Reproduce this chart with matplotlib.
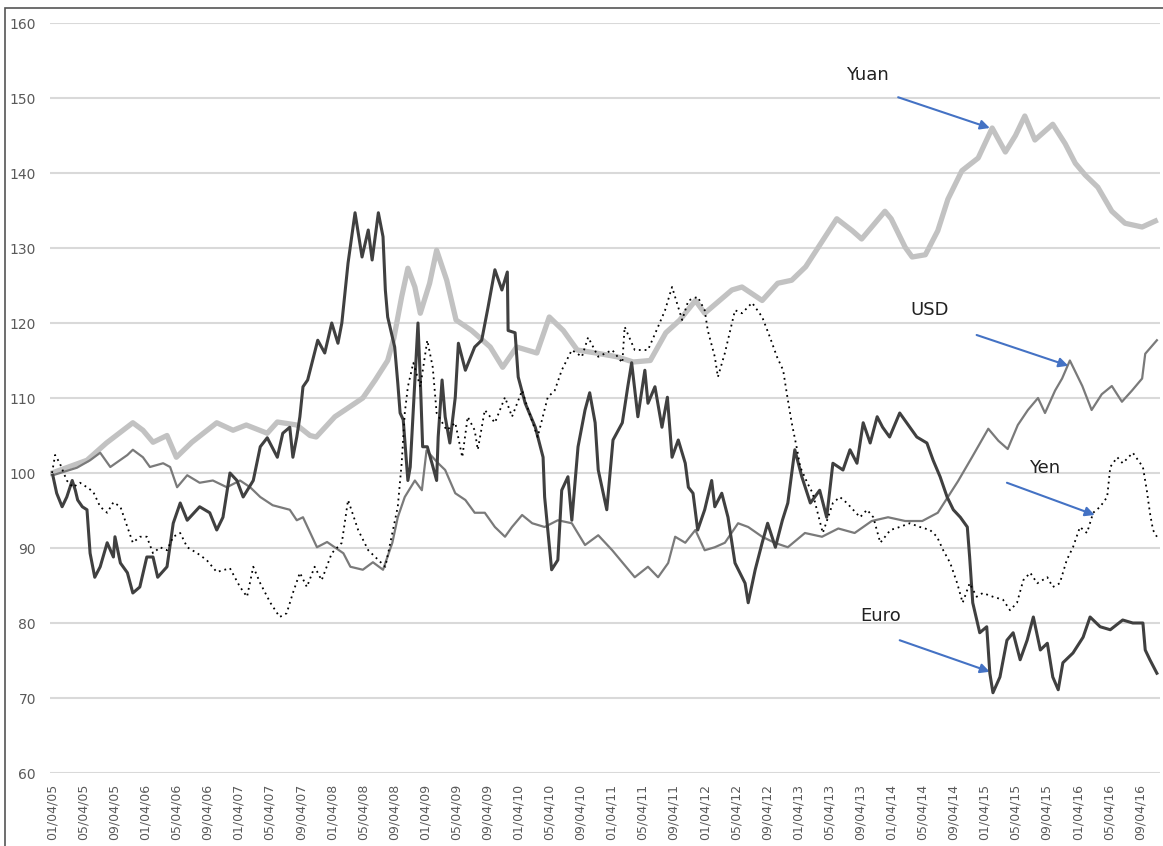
import matplotlib
matplotlib.use('Agg')
import matplotlib.pyplot as plt
from matplotlib.patches import Rectangle
import numpy as np

# Index values (base 100 on 04 Jan 2005), time in months since 04 Jan 2005
yuan_t = [0, 4.5, 7, 10.4, 11.7, 13, 14.8, 16, 18, 21.2,
          23.3, 25, 27.7, 29, 31.5, 33.2, 34, 36.4, 37.7, 40,
          41.6, 43.2, 44, 45, 45.8, 46.7, 47.4, 48.6, 49.5, 50.8,
          52, 54, 56.4, 58, 59.8, 62.4, 64, 65.8, 67.6, 70,
          72.7, 74.8, 77, 79, 80.8, 82.8, 84, 87.5, 88.8, 91.4,
          93.4, 95.2, 97, 99, 101, 103, 104.2, 107.2, 108, 109.8,
          110.7, 112.4, 114, 115.3, 117.1, 119.2, 121, 122.7, 124, 125.2,
          126.5, 128.8, 130.4, 131.7, 133, 134.6, 136.4, 138.1, 140.3, 142]
yuan_v = [100, 101.7, 104, 106.7, 105.7, 104.1, 105, 102.1, 104.1, 106.7,
          105.7, 106.4, 105.3, 106.8, 106.4, 105, 104.8, 107.5, 108.4, 110,
          112.4, 115, 118, 123.5, 127.3, 124.8, 121.3, 125.3, 129.7, 125.7,
          120.4, 119, 116.8, 114.1, 116.8, 116, 120.8, 119, 116.4, 116,
          115.5, 114.8, 115, 118.7, 120.4, 123, 121.3, 124.4, 124.8, 123,
          125.3, 125.7, 127.5, 130.7, 133.9, 132.3, 131.2, 134.9, 133.9, 130.1,
          128.8, 129.1, 132.3, 136.5, 140.3, 142, 146, 142.8, 145, 147.6,
          144.4, 146.5, 143.9, 141.3, 139.7, 138.1, 134.9, 133.3, 132.8, 133.6]

usd_t = [0.1, 3.2, 4.9, 6.2, 7.5, 9.7, 10.4, 11.7, 12.6, 14.3,
         15.2, 16.1, 17.4, 19, 20.7, 22.5, 24.2, 25.5, 26.8, 28.4,
         30.6, 31.5, 32.3, 34.1, 35.4, 37.5, 38.4, 40, 41.3, 42.6,
         43.8, 44.5, 45.4, 46.7, 47.6, 48.2, 49.7, 50.6, 51.9, 53.2,
         54.4, 55.7, 57, 58.3, 59.2, 60.5, 61.8, 63.4, 65.1, 66.9,
         68.6, 70.3, 72.1, 75, 76.7, 78, 79.3, 80.2, 81.5, 82.8,
         84, 85.3, 86.6, 88.3, 89.6, 91.4, 93, 94.7, 96.9, 99.1,
         101.2, 103.3, 105.5, 107.6, 109.8, 112, 114, 115.3, 116.6, 118.4,
         120.5, 121.8, 123, 124.3, 125.6, 126.9, 127.8, 129.1, 130, 131,
         132.6, 133.8, 135.1, 136.4, 137.7, 139, 140.3, 140.7, 142.2]
usd_v = [99.7, 100.7, 101.7, 102.7, 100.8, 102.4, 103.1, 102.1, 100.8, 101.3,
         100.8, 98.1, 99.7, 98.7, 99, 98.1, 99, 98.1, 96.8, 95.7,
         95.1, 93.7, 94.1, 90.1, 90.8, 89.3, 87.5, 87.1, 88.1, 87.1,
         90.7, 94.1, 96.8, 99, 97.7, 103, 101.3, 100.4, 97.3, 96.4,
         94.7, 94.7, 92.8, 91.5, 92.8, 94.4, 93.3, 92.8, 93.7, 93.3,
         90.4, 91.7, 89.7, 86.1, 87.5, 86.1, 88, 91.5, 90.7, 92.4,
         89.7, 90.1, 90.7, 93.3, 92.8, 91.5, 90.7, 90.1, 92, 91.5,
         92.6, 92, 93.6, 94.1, 93.6, 93.6, 94.7, 96.8, 98.9, 102.1,
         105.9, 104.3, 103.2, 106.4, 108.4, 110, 108, 111, 112.6, 115,
         111.6, 108.4, 110.5, 111.6, 109.5, 111, 112.6, 115.9, 117.7]

euro_t = [0.1, 0.6, 1.3, 1.9, 2.6, 3, 3.3, 3.9, 4.5, 4.9,
          5.5, 6.2, 7.1, 7.9, 8.1, 8.8, 9.7, 10.4, 11.3, 12.2,
          13, 13.6, 14.8, 15.6, 16.5, 17.4, 19, 20.3, 21.2, 22,
          22.9, 23.8, 24.6, 25.9, 26.8, 27.7, 29, 29.7, 30.6, 31,
          31.5, 31.9, 32.3, 32.9, 34.2, 35.1, 36, 36.8, 37.3, 38.1,
          39, 39.9, 40.7, 41.2, 42, 42.6, 42.9, 43.2, 44.1, 44.5,
          44.8, 45.2, 45.8, 46.1, 47.1, 47.4, 47.7, 48.3, 48.9, 49.5,
          49.7, 50.2, 50.6, 51.2, 51.9, 52.3, 53.2, 54.4, 55.3, 56.1,
          57, 57.9, 58.6, 58.7, 59.6, 60, 60.9, 62.2, 63.2, 63.4,
          64.3, 65.1, 65.6, 66.4, 66.9, 67.7, 68.6, 69.2, 69.9, 70.3,
          71.4, 72.2, 73.4, 74.1, 74.6, 75.4, 76.3, 76.7, 77.6, 78.5,
          79.2, 79.8, 80.6, 81.5, 81.9, 82.5, 83.1, 84, 84.9, 85.3,
          86.2, 87, 87.9, 89.2, 89.6, 90.5, 91.4, 92.1, 93.1, 94,
          94.7, 95.6, 96.5, 97.6, 98.8, 99.7, 100.5, 101.8, 102.7, 103.6,
          104.4, 105.3, 106.2, 106.9, 107.8, 109.1, 110, 111.3, 112.6, 113.4,
          114.3, 115.2, 116, 116.9, 117.8, 118.1, 118.5, 119.4, 120.3, 120.7,
          121.1, 122, 122.9, 123.7, 124.6, 125.5, 126.3, 127.2, 128.1, 128.8,
          129.5, 130.1, 131.4, 132.7, 133.6, 134.9, 136.2, 137.8, 139.1, 140.4,
          140.7, 141.3, 142.2]
euro_v = [99.7, 97.3, 95.5, 96.8, 99, 97.7, 96.4, 95.5, 95.1, 89.3,
          86.1, 87.5, 90.7, 88.8, 91.5, 88, 86.7, 84, 84.8, 88.8,
          88.8, 86.1, 87.5, 93.3, 96, 93.7, 95.5, 94.7, 92.4, 94.1,
          100, 99, 96.8, 99, 103.5, 104.7, 102.1, 105.3, 106.1, 102.1,
          104.8, 107.5, 111.5, 112.4, 117.7, 116, 120, 117.3, 120, 128,
          134.7, 128.8, 132.4, 128.4, 134.7, 131.5, 124.4, 120.8, 116.8, 112,
          108, 107.1, 99, 100.8, 120, 112.4, 103.5, 103.5, 101.3, 99,
          104.8, 112.4, 107.5, 104, 110.1, 117.3, 113.7, 116.8, 117.7, 122,
          127.1, 124.4, 126.8, 119, 118.7, 112.8, 109.3, 106.1, 102.1, 96.8,
          87.1, 88.4, 97.7, 99.5, 93.7, 103.5, 108.4, 110.7, 106.7, 100.4,
          95.1, 104.4, 106.7, 111.5, 114.7, 107.5, 113.7, 109.3, 111.5, 106.1,
          110.1, 102.1, 104.4, 101.3, 98.1, 97.3, 92.4, 95.1, 99, 95.5,
          97.3, 94.1, 88, 85.3, 82.7, 87.1, 90.7, 93.3, 90.1, 93.7,
          96, 103.1, 99.5, 96, 97.7, 94.1, 101.3, 100.4, 103.1, 101.3,
          106.7, 104, 107.5, 106.1, 104.8, 108, 106.7, 104.8, 104, 101.7,
          99.5, 96.8, 95.1, 94.1, 92.8, 88.8, 82.7, 78.7, 79.5, 73.3,
          70.7, 72.8, 77.7, 78.7, 75.1, 77.7, 80.8, 76.4, 77.3, 72.8,
          71.1, 74.7, 76, 78.1, 80.8, 79.5, 79.1, 80.4, 80, 80,
          76.4, 75.1, 73.3]

yen_t = [0, 0.4, 1, 1.9, 2.7, 3.6, 4.5, 5.3, 6.2, 7.1,
         7.9, 8.8, 9.7, 10.4, 11.3, 12.2, 13, 13.9, 14.8, 15.6,
         16.5, 17.4, 18.7, 19.9, 21.2, 22.9, 24.2, 25.1, 25.9, 26.8,
         28.1, 29.3, 30.2, 31, 31.9, 32.8, 33.8, 34.7, 36, 37.3,
         38.1, 39.4, 40.7, 42, 42.9, 43.8, 44.5, 45, 45.4, 45.8,
         46.5, 47.4, 48.3, 49, 49.5, 50.8, 51.9, 52.8, 53.5, 54.4,
         54.8, 55.7, 57, 58.3, 59.2, 60.5, 61.3, 62.5, 63.8, 64.7,
         65.6, 66.9, 68.2, 69, 70.3, 72.1, 73.4, 73.7, 75, 76.7,
         78, 78.9, 79.8, 81.1, 81.9, 83.1, 84, 84.4, 85.3, 85.7,
         86.6, 87.9, 88.8, 90.1, 91.4, 92.4, 93.3, 94.1, 94.6, 95.2,
         95.9, 96.3, 97.2, 97.9, 99.2, 100.5, 101.4, 102.3, 103.1, 104,
         104.9, 105.7, 106.6, 107.9, 109.1, 110.4, 111.7, 113, 113.9, 114.7,
         115.6, 116.5, 117.2, 118.1, 119, 119.8, 121.1, 122.4, 123.3, 124.2,
         125, 125.9, 126.8, 128.1, 128.8, 129.7, 130.6, 131.4, 132.3, 133.2,
         134, 134.9, 135.8, 136.2, 137.1, 137.8, 139.1, 140.4, 140.9, 141.3,
         141.7, 142.2]
yen_v = [100, 102.4, 101.3, 99, 98.1, 98.7, 98.1, 97.5, 95.5, 94.7,
         96.1, 95.5, 92.8, 90.7, 91.5, 91.5, 89.3, 90.1, 89.7, 91.5,
         92, 90.1, 89.3, 88.4, 86.8, 87.3, 84.8, 83.5, 87.5, 85.3,
         82.7, 80.8, 81.3, 84, 86.7, 84.8, 87.5, 85.7, 89.3, 90.7,
         96.4, 92.4, 89.7, 88.4, 87.5, 92, 95.5, 101.3, 108, 111.5,
         114.7, 111.5, 117.7, 114.1, 108, 105.7, 106.7, 102.1, 107.5, 105.7,
         103.1, 108.4, 106.7, 110.1, 107.5, 111, 108.4, 104.8, 110.1, 111,
         113.7, 116.4, 115.5, 118.1, 115.5, 116.4, 114.7, 119.5, 116.4, 116.4,
         119.5, 121.7, 124.8, 120.4, 123, 123.5, 121.7, 119, 115.5, 112.8,
         116, 121.7, 121.3, 122.7, 120.8, 118.1, 115.5, 113.7, 110.4, 106.7,
         103.1, 100.8, 98.7, 97.3, 92, 96, 96.8, 96, 95.1, 94.1,
         95.1, 94.1, 90.7, 92.4, 92.8, 93.3, 92.8, 92.4, 91.5, 89.7,
         88, 85.3, 82.7, 85.3, 83.5, 84, 83.5, 83.1, 81.7, 82.7,
         85.7, 86.7, 85.3, 86.1, 84.8, 85.3, 88.4, 90.1, 92.8, 92,
         94.7, 95.5, 96.8, 100.8, 102.1, 101.3, 102.7, 100.8, 97.7, 94.7,
         92.4, 91.5]

tick_labels = ['01/04/05', '05/04/05', '09/04/05', '01/04/06', '05/04/06', '09/04/06',
               '01/04/07', '05/04/07', '09/04/07', '01/04/08', '05/04/08', '09/04/08',
               '01/04/09', '05/04/09', '09/04/09', '01/04/10', '05/04/10', '09/04/10',
               '01/04/11', '05/04/11', '09/04/11', '01/04/12', '05/04/12', '09/04/12',
               '01/04/13', '05/04/13', '09/04/13', '01/04/14', '05/04/14', '09/04/14',
               '01/04/15', '05/04/15', '09/04/15', '01/04/16', '05/04/16', '09/04/16']

# label text, label position, arrow start, arrow tip
labels = ['Yuan', 'USD', 'Yen', 'Euro']
label_pos = [(105, 153.1), (113, 121.7), (127.8, 100.7), (106.6, 80.9)]
arrow_from = [(108.9, 150.1), (119, 118.4), (122.9, 98.7), (109.1, 77.7)]
arrow_to = [(120.7, 146), (130.8, 114.3), (134.2, 94.4), (120.7, 73.5)]

fig = plt.figure(figsize=(11.63, 8.46), dpi=100)
ax = fig.add_axes([50 / 1163, 1 - 773 / 846, 1110 / 1163, 750 / 846])

ax.plot(yuan_t, yuan_v, color='#c2c2c2', lw=3.8, solid_joinstyle='round', zorder=2)
ax.plot(usd_t, usd_v, color='#7a7a7a', lw=1.6, zorder=3)
ax.plot(euro_t, euro_v, color='#404040', lw=2.2, zorder=4)
ax.plot(yen_t, yen_v, color='black', lw=1.3, linestyle=(0, (1, 2.2)), zorder=5)

ax.set_ylim(60, 160)
ax.set_xlim(-0.26, 142.6)
ax.set_yticks(np.arange(60, 161, 10))
ax.set_xticks(np.arange(0, 141, 4))
ax.set_xticklabels(tick_labels, rotation=90)
ax.tick_params(axis='both', length=0, colors='#595959')
ax.tick_params(axis='y', pad=10, labelsize=10)
ax.tick_params(axis='x', pad=8, labelsize=9)
ax.yaxis.grid(True, color='#d9d9d9', lw=1.5)
ax.set_axisbelow(True)
for s in ax.spines.values():
    s.set_visible(False)

for txt, p, a, b in zip(labels, label_pos, arrow_from, arrow_to):
    ax.text(p[0], p[1], txt, fontsize=13, ha='center', va='center', color='#222222')
    ax.annotate('', xy=b, xytext=a,
                arrowprops=dict(arrowstyle='-|>', color='#4472c4', lw=1.5,
                                mutation_scale=14, shrinkA=0, shrinkB=0))

# outer frame
fig.patches.append(Rectangle((5 / 1163, -0.01), 1.02, 1 - 8 / 846 + 0.01,
                             transform=fig.transFigure, fill=False,
                             edgecolor='#555555', lw=1.2))

fig.savefig('out.png', dpi=100)
